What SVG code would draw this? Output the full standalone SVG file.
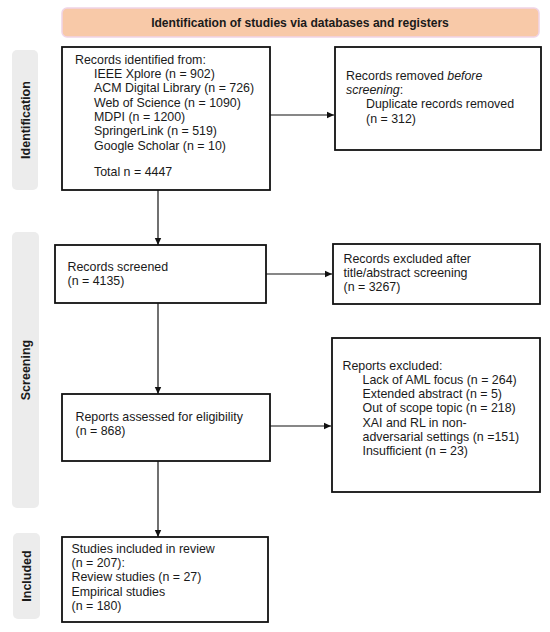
<svg xmlns="http://www.w3.org/2000/svg" width="550" height="632" viewBox="0 0 550 632">
<style>
.box{fill:#fff;stroke:#111;stroke-width:1.8}
.t{font-family:"Liberation Sans",Arial,sans-serif;font-size:12.4px;fill:#1a1a1a}
.side{fill:#ececec;stroke:none}
.st{font-family:"Liberation Sans",Arial,sans-serif;font-size:12.5px;font-weight:bold;fill:#1a1a1a;text-anchor:middle}
.c{stroke:#111;stroke-width:1.2;fill:none}
</style>
<defs>
<marker id="ah" markerWidth="8" markerHeight="8" refX="7" refY="4" orient="auto" markerUnits="userSpaceOnUse">
<path d="M0,0.8 L7,4 L0,7.2 Z" fill="#111"/>
</marker>
</defs>
<rect width="550" height="632" fill="#fff"/>
<g id="header">
<rect x="62" y="8" width="477" height="29" rx="5" fill="#f8c9a8" stroke="#f0d4e6" stroke-width="1.5"/>
<text x="300" y="27" class="st" style="font-size:12.1px">Identification of studies via databases and registers</text>
</g>
<g id="side-identification">
<rect class="side" x="12" y="50" width="26" height="140" rx="5"/>
<text class="st" transform="translate(29.5,120) rotate(-90)">Identification</text>
</g>
<g id="side-screening">
<rect class="side" x="12" y="232" width="27" height="276" rx="5"/>
<text class="st" transform="translate(29.5,370) rotate(-90)">Screening</text>
</g>
<g id="side-included">
<rect class="side" x="13" y="533" width="27" height="86" rx="5"/>
<text class="st" transform="translate(30.5,576) rotate(-90)">Included</text>
</g>
<g id="connectors">
<line class="c" x1="270" y1="115" x2="334" y2="115" marker-end="url(#ah)"/>
<line class="c" x1="158" y1="190" x2="158" y2="245" marker-end="url(#ah)"/>
<line class="c" x1="266" y1="274" x2="332" y2="274" marker-end="url(#ah)"/>
<line class="c" x1="158" y1="303" x2="158" y2="394" marker-end="url(#ah)"/>
<line class="c" x1="270" y1="426" x2="331" y2="426" marker-end="url(#ah)"/>
<line class="c" x1="158" y1="461" x2="158" y2="537" marker-end="url(#ah)"/>
</g>
<g id="records-identified">
<rect class="box" x="62" y="47" width="208" height="143"/>
<text class="t" x="75" y="63.5">Records identified from:</text>
<text class="t" x="94" y="78">IEEE Xplore (n = 902)</text>
<text class="t" x="94" y="92.3">ACM Digital Library (n = 726)</text>
<text class="t" x="94" y="106.6">Web of Science (n = 1090)</text>
<text class="t" x="94" y="120.9">MDPI (n = 1200)</text>
<text class="t" x="94" y="135.2">SpringerLink (n = 519)</text>
<text class="t" x="94" y="149.5">Google Scholar (n = 10)</text>
<text class="t" x="94" y="176">Total n = 4447</text>
</g>
<g id="records-removed">
<rect class="box" x="335" y="47" width="206" height="103"/>
<text class="t" x="346" y="80">Records removed <tspan font-style="italic">before</tspan></text>
<text class="t" x="346" y="94"><tspan font-style="italic">screening</tspan>:</text>
<text class="t" x="366" y="108.3">Duplicate records removed</text>
<text class="t" x="366" y="122.6">(n = 312)</text>
</g>
<g id="records-screened">
<rect class="box" x="55" y="245" width="211" height="58"/>
<text class="t" x="67.5" y="270.5">Records screened</text>
<text class="t" x="67.5" y="284.5">(n = 4135)</text>
</g>
<g id="records-excluded">
<rect class="box" x="333" y="244" width="207" height="60"/>
<text class="t" x="343.5" y="263">Records excluded after</text>
<text class="t" x="343.5" y="277">title/abstract screening</text>
<text class="t" x="343.5" y="291">(n = 3267)</text>
</g>
<g id="reports-assessed">
<rect class="box" x="62" y="394" width="208" height="67"/>
<text class="t" x="75.5" y="421">Reports assessed for eligibility</text>
<text class="t" x="75.5" y="435">(n = 868)</text>
</g>
<g id="reports-excluded">
<rect class="box" x="332" y="338" width="208" height="154"/>
<text class="t" x="342.5" y="369.5">Reports excluded:</text>
<text class="t" x="362.5" y="383.8">Lack of AML focus (n = 264)</text>
<text class="t" x="362.5" y="398.1">Extended abstract (n = 5)</text>
<text class="t" x="362.5" y="412.4">Out of scope topic (n = 218)</text>
<text class="t" x="362.5" y="426.7">XAI and RL in non-</text>
<text class="t" x="362.5" y="441">adversarial settings (n =151)</text>
<text class="t" x="362.5" y="455.3">Insufficient (n = 23)</text>
</g>
<g id="studies-included">
<rect class="box" x="62" y="537" width="206" height="85"/>
<text class="t" x="71.5" y="553">Studies included in review</text>
<text class="t" x="71.5" y="567.2">(n = 207):</text>
<text class="t" x="71.5" y="581.4">Review studies (n = 27)</text>
<text class="t" x="71.5" y="595.6">Empirical studies</text>
<text class="t" x="71.5" y="609.8">(n = 180)</text>
</g>
</svg>
